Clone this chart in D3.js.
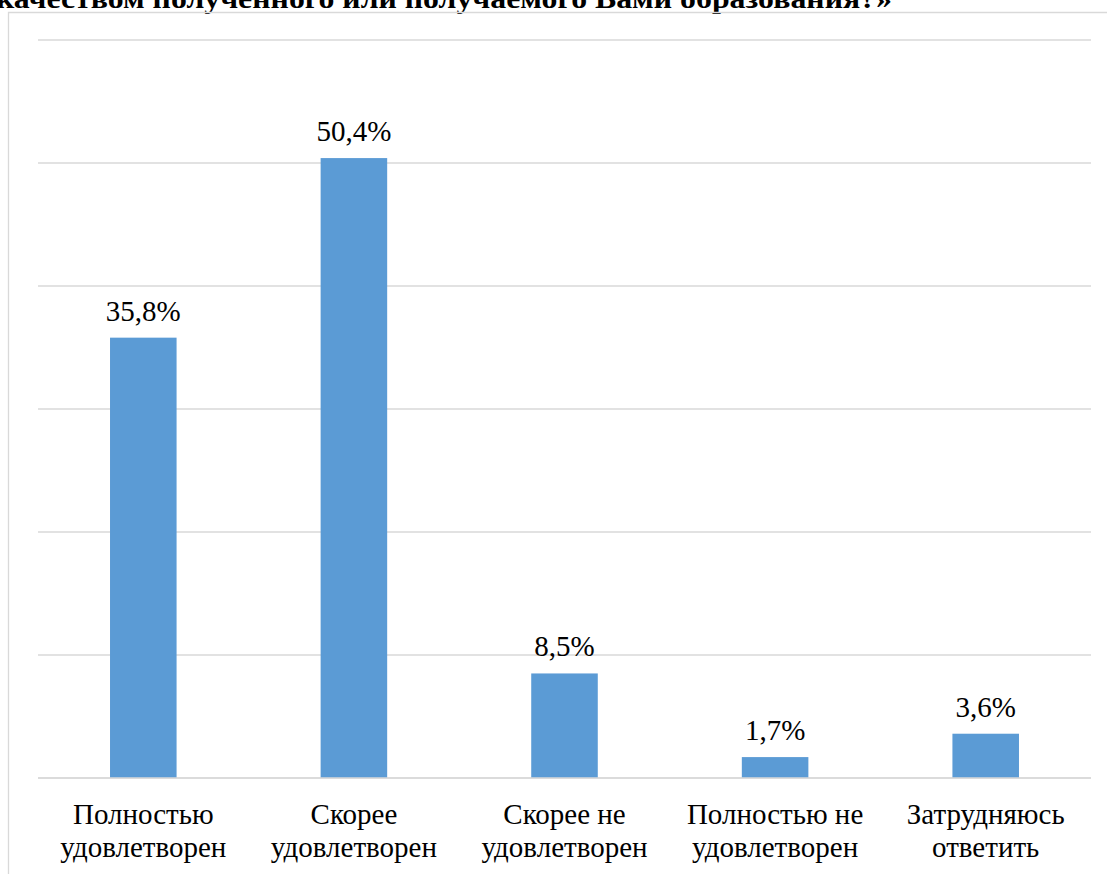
<!DOCTYPE html>
<html><head><meta charset="utf-8">
<script src="https://cdn.jsdelivr.net/npm/d3@7"></script>
<style>body{margin:0;background:#fff;} svg{display:block;} text{font-family:"Liberation Serif","Times New Roman",serif;}</style>
</head><body>
<script>
const categories = [["Полностью","удовлетворен"],["Скорее","удовлетворен"],["Скорее не","удовлетворен"],["Полностью не","удовлетворен"],["Затрудняюсь","ответить"]];
const values = [35.8, 50.4, 8.5, 1.7, 3.6];
const valueLabels = ["35,8%","50,4%","8,5%","1,7%","3,6%"];
const yTicks = [0,10,20,30,40,50,60];
const titleText = "качеством полученного или получаемого Вами образования?»";

const W = 1107, H = 874;
const svg = d3.select("body").append("svg").attr("width", W).attr("height", H);

// title (clipped at top of the picture)
svg.append("text").attr("x", 892).attr("y", 8).attr("text-anchor","end")
  .attr("font-weight","bold").attr("font-size", 28)
  .attr("fill","#000").attr("textLength", 896).attr("lengthAdjust","spacingAndGlyphs")
  .text(titleText);

// frame
svg.append("path").attr("d", `M8.5,${H} V12.5 H${W}`).attr("fill","none")
  .attr("stroke","#d9d9d9").attr("stroke-width",1.3);

const x = d3.scaleBand().domain(d3.range(values.length)).range([38,1091])
  .paddingInner(0.684).paddingOuter(0.342);
const y = d3.scaleLinear().domain([0,60]).range([778,40]);

svg.append("g").selectAll("line").data(yTicks).join("line")
  .attr("x1",38).attr("x2",1091).attr("y1",d=>y(d)).attr("y2",d=>y(d))
  .attr("stroke","#d9d9d9").attr("stroke-width",1.5);

svg.append("g").selectAll("rect").data(values).join("rect")
  .attr("x",(d,i)=>x(i)).attr("width",x.bandwidth())
  .attr("y",d=>y(d)).attr("height",d=>y(0)-y(d)).attr("fill","#5b9bd5");

svg.append("line").attr("x1",38).attr("x2",1091).attr("y1",y(0)).attr("y2",y(0))
  .attr("stroke","#d9d9d9").attr("stroke-width",1.5);

svg.append("g").selectAll("text").data(values).join("text")
  .attr("x",(d,i)=>x(i)+x.bandwidth()/2).attr("y",d=>y(d)-17)
  .attr("text-anchor","middle").attr("font-size",29)
  .attr("fill","#000").text((d,i)=>valueLabels[i]);

const cat = svg.append("g").selectAll("text").data(categories).join("text")
  .attr("text-anchor","middle").attr("font-size",29).attr("fill","#000");
cat.each(function(d,i){
  const t = d3.select(this);
  d.forEach((line,j)=>{
    t.append("tspan").attr("x", x(i)+x.bandwidth()/2).attr("y", 824 + j*33).text(line);
  });
});
</script>
</body></html>
